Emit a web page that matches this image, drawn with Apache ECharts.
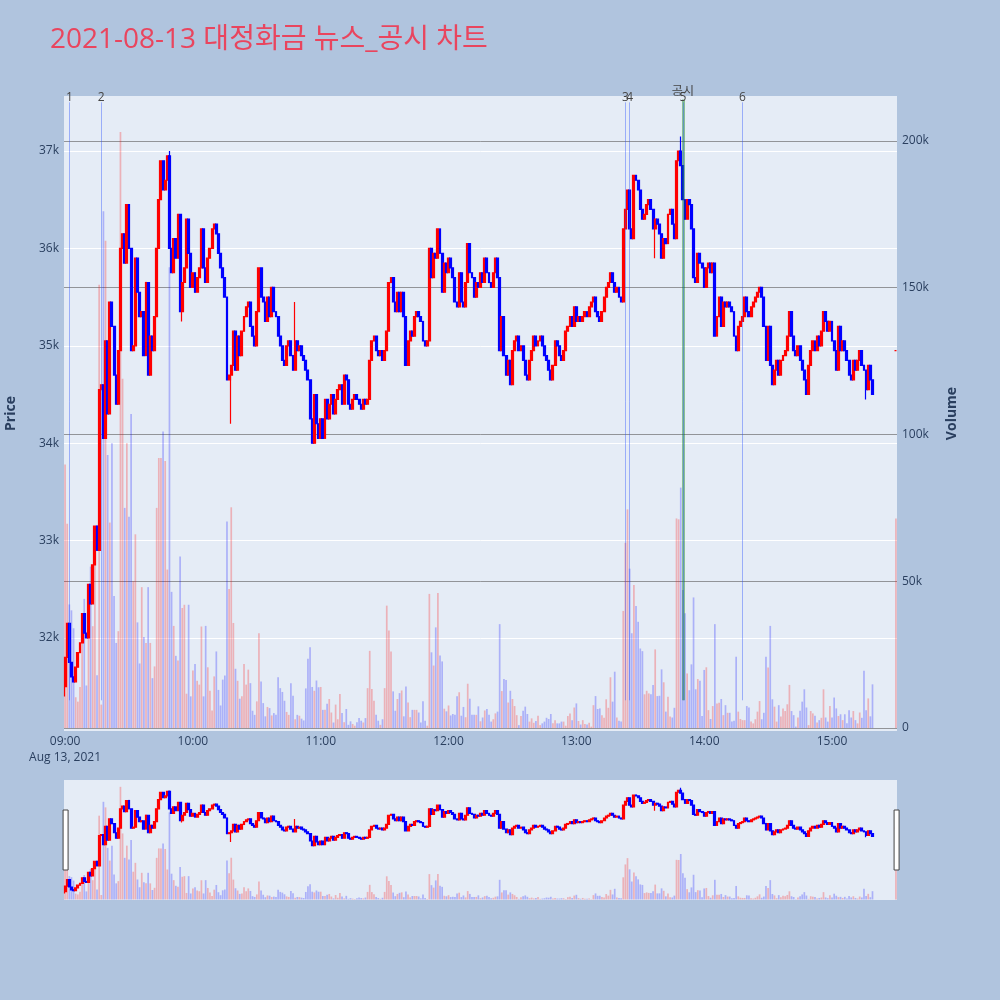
<!DOCTYPE html>
<html lang="ko">
<head>
<meta charset="utf-8">
<title>대정화금 뉴스_공시 차트</title>
<script src="https://cdn.jsdelivr.net/npm/echarts@6/dist/echarts.min.js"></script>
<style>
  html, body { margin: 0; padding: 0; background: #b0c4de; }
  #chart { width: 1000px; height: 1000px; }
</style>
</head>
<body>
<div id="chart"></div>
<script>
// 1분봉 종가 (09:00 ~ 15:19), 시가는 직전 종가
const firstOpen = 31500;
const closes = [
  31800, 32150, 31750, 31600, 31550, 31700, 31850, 31950, 32250, 32050,
  32000, 32550, 32350, 32750, 33150, 32900, 34550, 34600, 34050, 35050,
  34300, 35450, 35200, 34700, 34400, 34950, 36000, 36150, 35850, 36450,
  36000, 34950, 35000, 35900, 35550, 35300, 35350, 34900, 35650, 34700,
  35100, 34950, 35300, 36000, 36500, 36900, 36600, 36700, 36950, 36000,
  35750, 36100, 35900, 36350, 35350, 35650, 35800, 36300, 35950, 35600,
  35750, 35550, 35700, 35800, 36200, 35800, 35650, 35900, 36000, 36200,
  36250, 36150, 35950, 35800, 35700, 35500, 34650, 34700, 34800, 35150,
  34750, 35100, 34900, 35150, 35300, 35400, 35450, 35200, 35100, 35000,
  35350, 35800, 35500, 35450, 35250, 35500, 35300, 35600, 35350, 35300,
  35100, 35000, 34850, 34800, 35000, 35050, 34900, 34750, 35050, 34950,
  35000, 34900, 34850, 34750, 34650, 34250, 34000, 34500, 34200, 34050,
  34250, 34050, 34450, 34250, 34400, 34500, 34300, 34450, 34550, 34600,
  34400, 34700, 34650, 34400, 34350, 34450, 34500, 34450, 34400, 34350,
  34450, 34400, 34450, 34850, 35050, 35100, 34950, 34900, 34950, 34850,
  34950, 35150, 35650, 35700, 35450, 35350, 35550, 35350, 35550, 35300,
  34800, 35050, 35150, 35100, 35300, 35350, 35300, 35250, 35050, 35000,
  35050, 36000, 35700, 35950, 35900, 36200, 35950, 35550, 35850, 35750,
  35900, 35800, 35700, 35450, 35400, 35750, 35450, 35400, 35650, 36050,
  35750, 35700, 35500, 35650, 35600, 35750, 35650, 35900, 35750, 35650,
  35600, 35750, 35900, 35700, 34950, 35300, 34900, 34700, 34850, 34600,
  34950, 35050, 35100, 34950, 35000, 34850, 34700, 34650, 34850, 34950,
  35100, 35000, 35050, 35100, 35000, 34900, 34850, 34750, 34650, 34800,
  35050, 35000, 34900, 34850, 34950, 35150, 35200, 35300, 35200, 35400,
  35250, 35300, 35250, 35300, 35350, 35300, 35400, 35450, 35500, 35350,
  35300, 35250, 35350, 35500, 35600, 35650, 35750, 35650, 35550, 35600,
  35500, 35450, 36200, 36400, 36600, 36200, 36100, 36750, 36700, 36600,
  36400, 36300, 36350, 36450, 36500, 36400, 36200, 36300, 36250, 36150,
  35900, 36100, 36050, 36350, 36400, 36250, 36100, 36900, 37000, 36850,
  36500, 36300, 36500, 36450, 36200, 35700, 35650, 35950, 35850, 35800,
  35600, 35800, 35850, 35750, 35850, 35100, 35300, 35500, 35200, 35450,
  35400, 35450, 35400, 35350, 35100, 34950, 35200, 35250, 35300, 35500,
  35350, 35300, 35400, 35450, 35500, 35550, 35600, 35500, 35200, 34850,
  35200, 34800, 34600, 34750, 34850, 34700, 34850, 34900, 34950, 35100,
  35350, 35100, 34950, 34900, 35000, 34850, 34750, 34650, 34500, 34800,
  34950, 35050, 34950, 35100, 35000, 35150, 35350, 35250, 35150, 35250,
  35050, 34950, 34750, 35200, 34950, 35050, 34950, 34850, 34700, 34650,
  34850, 34750, 34850, 34950, 34800, 34750, 34550, 34800, 34650, 34500
];
// 꼬리가 긴 봉
const lowWicks = [['09:00', 31400], ['09:55', 35250], ['10:18', 34200], ['13:37', 35900], ['15:16', 34450]];
const highWicks = [['09:49', 37000], ['10:48', 35450], ['13:49', 37150]];

// 1분 거래량
const volumes = [
  89800, 69600, 42100, 40100, 34000, 10500, 9000, 14000, 37000, 44000,
  14500, 33000, 55000, 34700, 62000, 18000, 151000, 8000, 176000, 166000,
  93000, 70000, 97000, 45000, 29000, 33000, 203000, 119000, 75000, 97000,
  72000, 107000, 50000, 66000, 36000, 22000, 48000, 31000, 29000, 48000,
  29000, 17000, 21000, 75000, 92000, 92000, 101000, 91000, 54000, 157000,
  46400, 34800, 24600, 23000, 58400, 40900, 42000, 11700, 42000, 10800,
  19600, 21800, 16100, 14800, 34600, 10800, 34800, 20700, 12700, 6000,
  17600, 26100, 13000, 7700, 16500, 17900, 70400, 47400, 75200, 35800,
  20200, 16100, 10000, 10800, 21800, 14800, 19900, 15300, 5900, 4500,
  9100, 32300, 15900, 8500, 4000, 7200, 6800, 4300, 5100, 4500,
  17300, 13600, 12300, 9300, 5500, 4500, 15300, 11000, 3000, 4500,
  4200, 3200, 2600, 13500, 23600, 27500, 14000, 12700, 16200, 13900,
  14000, 6200, 6200, 8300, 9900, 5300, 1900, 8000, 3000, 11600,
  5100, 2000, 6500, 1100, 2300, 1400, 800, 2000, 3400, 2500,
  1900, 3400, 13600, 26300, 13300, 9300, 4500, 2500, 1100, 3000,
  13600, 41700, 33200, 26100, 12500, 5900, 9900, 11900, 12800, 4000,
  14200, 8700, 3700, 6200, 6200, 6200, 5300, 1900, 9100, 2500,
  800, 45700, 25800, 21300, 34300, 46000, 24700, 22700, 6600, 5700,
  7700, 4300, 4800, 4500, 10800, 12200, 4200, 7200, 3700, 15100,
  10000, 4500, 4500, 4500, 7400, 2300, 3600, 6000, 6500, 4500,
  2200, 3000, 5000, 5600, 35400, 12600, 16700, 16400, 8700, 12700,
  9900, 7500, 4400, 1000, 4100, 5900, 7300, 4800, 2200, 3300,
  1800, 2400, 4200, 1000, 1600, 2200, 3500, 3100, 4800, 1600,
  2700, 1600, 1600, 2200, 2200, 800, 4100, 5000, 2700, 7000,
  8400, 2400, 1200, 2700, 1400, 1200, 1800, 500, 7800, 10900,
  6500, 6700, 4400, 3500, 9800, 6900, 17300, 9000, 19200, 3600,
  2500, 2200, 39900, 63100, 74500, 54300, 32300, 48700, 41600, 36200,
  27100, 26200, 11500, 12700, 11800, 11500, 14700, 26800, 10900, 11000,
  20000, 15600, 5600, 10700, 3900, 3600, 6900, 71400, 71100, 81900,
  47000, 39100, 18600, 12900, 21700, 44500, 13200, 16700, 16100, 4100,
  19800, 20700, 6100, 3100, 7500, 35400, 8400, 8600, 9900, 4400,
  7800, 5200, 5200, 2200, 2500, 24300, 5600, 3100, 2700, 2700,
  7500, 7000, 2200, 1600, 3000, 5600, 9200, 3000, 5200, 24300,
  20600, 34800, 9800, 7300, 2200, 7800, 3900, 6700, 5800, 8100,
  14700, 5800, 4400, 500, 3600, 5900, 9000, 13200, 7000, 1000,
  5800, 5000, 4200, 1900, 2700, 3500, 13200, 3600, 2200, 7500,
  3600, 10400, 6700, 4100, 4700, 2700, 4700, 1600, 6100, 3600,
  5800, 2700, 1600, 5300, 3500, 19500, 6100, 10100, 4000, 14900
];

// 장 마감 동시호가
const closeTime = '15:30';
const closePrice = 34950;
const closeVolume = 71400;

// 뉴스 / 공시 시각
const newsTimes = ['09:02', '09:17', '13:23', '13:25', '13:50', '14:18'];
const newsLabels = ['1', '2', '3', '4', '5', '6'];
const disclosureTimes = ['13:50'];

const UP = '#ff0000', DOWN = '#0000ff';
const UP_VOL = 'rgba(255,0,0,0.25)', DOWN_VOL = 'rgba(0,0,255,0.25)';
const AXIS_TEXT = '#2a3f5f';

function pad(n) { return (n < 10 ? '0' : '') + n; }
const times = [];
for (let m = 0; m <= 390; m++) {
    times.push(pad(9 + Math.floor(m / 60)) + ':' + pad(m % 60));
}

const candles = times.map(function () { return '-'; });
const volBars = times.map(function () { return '-'; });
closes.forEach(function (c, i) {
    const o = i === 0 ? firstOpen : closes[i - 1];
    candles[i] = [o, c, Math.min(o, c), Math.max(o, c)];
    volBars[i] = { value: volumes[i], itemStyle: { color: c >= o ? UP_VOL : DOWN_VOL } };
});
lowWicks.forEach(function (w) { candles[times.indexOf(w[0])][2] = w[1]; });
highWicks.forEach(function (w) { candles[times.indexOf(w[0])][3] = w[1]; });
const ci = times.indexOf(closeTime);
candles[ci] = [closePrice, closePrice, closePrice, closePrice];
volBars[ci] = { value: closeVolume, itemStyle: { color: UP_VOL } };

// 세로선: 아래 끝 / 위 끝 (가격축 기준)
const lineLow = 31360, lineHigh = 37500;
const markLines = [];
disclosureTimes.forEach(function (t) {
    markLines.push([
        { coord: [t, lineLow], name: '공시', lineStyle: { color: 'rgba(0,128,0,0.4)', width: 3 }, label: { distance: 2 } },
        { coord: [t, lineHigh + 30], name: '공시' }
    ]);
});
newsTimes.forEach(function (t, i) {
    markLines.push([
        { coord: [t, lineLow], name: newsLabels[i] },
        { coord: [t, lineHigh], name: newsLabels[i] }
    ]);
});

const priceMin = 31045, priceMax = 37565;
const volMin = -1000, volMax = 215300;

const candleStyle = {
    color: UP, color0: DOWN, borderColor: UP, borderColor0: DOWN,
    borderColorDoji: UP, borderWidth: 1.2
};

const chart = echarts.init(document.getElementById('chart'));
chart.setOption({
    animation: false,
    backgroundColor: '#b0c4de',
    textStyle: { fontFamily: "'Open Sans', 'Noto Sans CJK KR', sans-serif" },
    title: {
        text: '2021-08-13 대정화금 뉴스_공시 차트',
        left: 45,
        top: 21,
        textStyle: { color: '#e9455e', fontSize: 28, fontWeight: 'normal',
            fontFamily: "'Open Sans', 'Noto Sans CJK KR', sans-serif" }
    },
    grid: [
        { left: 64, right: 103, top: 96, bottom: 269, show: true, backgroundColor: '#e5ecf6',
          borderWidth: 0, containLabel: false, outerBoundsMode: 'none' },
        { left: 64, right: 103, top: 780, height: 120, show: true, backgroundColor: '#e5ecf6',
          borderWidth: 0, containLabel: false, outerBoundsMode: 'none' }
    ],
    xAxis: [
        {
            type: 'category', gridIndex: 0, data: times,
            axisLine: { show: false }, axisTick: { show: false },
            splitLine: { show: false },
            axisLabel: {
                color: AXIS_TEXT, fontSize: 12, margin: 3, lineHeight: 16,
                interval: function (index) { return index % 60 === 0; },
                formatter: function (value, index) {
                    return index === 0 ? value + '\nAug 13, 2021' : value;
                }
            }
        },
        { type: 'category', gridIndex: 1, data: times, show: false }
    ],
    yAxis: [
        {
            type: 'value', gridIndex: 0, position: 'left', min: priceMin, max: priceMax,
            name: 'Price', nameLocation: 'middle', nameGap: 46, nameRotate: 90,
            nameTextStyle: { color: AXIS_TEXT, fontSize: 14, fontWeight: 'bold' },
            axisLine: { show: false }, axisTick: { show: false },
            axisLabel: {
                color: AXIS_TEXT, fontSize: 12, margin: 5, showMinLabel: false, showMaxLabel: false,
                formatter: function (v) { return (v / 1000) + 'k'; }
            },
            splitLine: { lineStyle: { color: '#ffffff', width: 1 }, showMinLine: false, showMaxLine: false }
        },
        {
            type: 'value', gridIndex: 0, position: 'right', min: volMin, max: volMax,
            name: 'Volume', nameLocation: 'middle', nameGap: 48, nameRotate: 90,
            nameTextStyle: { color: AXIS_TEXT, fontSize: 14, fontWeight: 'bold' },
            axisLine: { show: false }, axisTick: { show: false },
            axisLabel: {
                color: AXIS_TEXT, fontSize: 12, margin: 5, showMinLabel: false, showMaxLabel: false,
                formatter: function (v) { return v === 0 ? '0' : (v / 1000) + 'k'; }
            },
            splitLine: { lineStyle: { color: 'rgba(90,90,90,0.6)', width: 1 }, showMinLine: false, showMaxLine: false }
        },
        { type: 'value', gridIndex: 1, min: priceMin, max: priceMax, show: false, splitLine: { show: false } },
        { type: 'value', gridIndex: 1, min: volMin, max: volMax, show: false, splitLine: { show: false } }
    ],
    dataZoom: [{
        type: 'slider', xAxisIndex: [0], start: 0, end: 100, filterMode: 'none',
        left: 64, right: 103, top: 780, height: 120,
        backgroundColor: 'rgba(0,0,0,0)', borderColor: 'rgba(0,0,0,0)', fillerColor: 'rgba(0,0,0,0)',
        showDataShadow: false, showDetail: false, brushSelect: false,
        handleIcon: 'path://M0,0H5V60H0Z', handleSize: '50%',
        handleStyle: { color: '#ffffff', borderColor: '#444444', borderWidth: 1 },
        moveHandleSize: 0, moveHandleStyle: { opacity: 0 },
        emphasis: {
            handleStyle: { color: '#ffffff', borderColor: '#444444', borderWidth: 1 },
            moveHandleStyle: { opacity: 0 }
        }
    }],
    series: [
        {
            type: 'bar', name: 'Volume', xAxisIndex: 0, yAxisIndex: 1,
            data: volBars, barWidth: '80%', silent: true
        },
        {
            type: 'candlestick', name: 'Price', xAxisIndex: 0, yAxisIndex: 0,
            data: candles, barWidth: 2.4, itemStyle: candleStyle,
            markLine: {
                silent: true, symbol: ['none', 'none'], animation: false,
                lineStyle: { type: 'solid', color: 'rgba(40,80,255,0.4)', width: 1 },
                label: {
                    show: true, position: 'end', distance: -1, color: '#444444', fontSize: 12,
                    formatter: function (p) { return p.name; }
                },
                data: markLines
            }
        },
        {
            type: 'bar', xAxisIndex: 1, yAxisIndex: 3,
            data: volBars, barWidth: '80%', silent: true
        },
        {
            type: 'candlestick', xAxisIndex: 1, yAxisIndex: 2,
            data: candles, barWidth: 2.4, itemStyle: candleStyle, silent: true
        }
    ]
});
</script>
</body>
</html>
